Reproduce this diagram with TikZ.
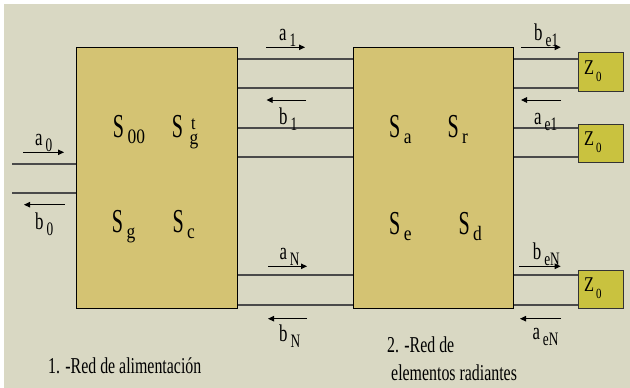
\documentclass[tikz,border=0pt]{standalone}
\usepackage{fontspec}
\setmainfont{Liberation Serif}
\newfontfamily\sfam[FakeStretch=0.6]{Liberation Serif}
\newfontfamily\subfam[FakeStretch=0.85]{Liberation Serif}
\newfontfamily\lfam[FakeStretch=0.7]{Liberation Serif}
\newfontfamily\zfam[FakeStretch=0.78]{Liberation Serif}
\newfontfamily\cfam[FakeStretch=0.70]{Liberation Serif}
\usetikzlibrary{arrows.meta}
\definecolor{bg}{HTML}{D9D8C3}
\definecolor{blk}{HTML}{D4C373}
\definecolor{zz}{HTML}{C9C23F}
\definecolor{wire}{HTML}{4A4A4A}
\newcommand\SL[2]{{\fontsize{33.5}{33.5}\selectfont #1}\hspace{3.5pt}\raisebox{-6pt}{\subfam\fontsize{20.5}{20.5}\selectfont #2}}
\newcommand\LB[2]{{\fontsize{24}{24}\selectfont #1}\hspace{3pt}\raisebox{-6pt}{\fontsize{19}{19}\selectfont #2}}
\tikzset{
  blockbox/.style={draw=black, line width=1.1pt, fill=blk, inner sep=0pt, anchor=north west},
  zbox/.style={draw=black!80, line width=1.1pt, fill=zz, inner sep=0pt, anchor=north west, minimum width=44.7pt},
  wireline/.style={draw=wire, line width=1.3pt},
  arr/.style={draw=black, line width=0.9pt, -{Triangle[length=6pt,width=5.5pt]}},
  slab/.style={anchor=base west, inner sep=0pt, font=\sfam},
  subtxt/.style={anchor=base west, inner sep=0pt, font=\subfam\fontsize{19}{19}\selectfont},
  lab/.style={anchor=base west, inner sep=0pt, font=\lfam},
  captxt/.style={anchor=base west, inner sep=0pt, font=\cfam\fontsize{22.7}{24}\selectfont},
}
\begin{document}
\begin{tikzpicture}[x=1pt,y=-1pt]
\path[use as bounding box] (0,0) rectangle (630,388);
\fill[bg] (4,4) rectangle (630,388);
% blocks
\node[blockbox, minimum width=160.7pt, minimum height=261pt] (n1) at (76,47) {};
\node[blockbox, minimum width=160.6pt, minimum height=261pt] (n2) at (352.7,47) {};
% loads
\node[zbox, minimum height=38.7pt] (z1) at (578,52) {};
\node[zbox, minimum height=38.6pt] (z2) at (578,123.7) {};
\node[zbox, minimum height=38.6pt] (z3) at (578,269.7) {};
% input wires
\coordinate (in1) at (12,164);
\coordinate (in2) at (12,193);
\draw[wireline] (in1) -- (n1.west |- in1);
\draw[wireline] (in2) -- (n1.west |- in2);
% wires between networks
\foreach \y in {59,88,128,157,275,305}
  \draw[wireline] (n1.east |- 0,\y) -- (n2.west |- 0,\y);
% wires to loads
\draw[wireline] (n2.east |- 0,59) -- (z1.west |- 0,59);
\draw[wireline] (n2.east |- 0,88) -- (z1.west |- 0,88);
\draw[wireline] (n2.east |- 0,128) -- (z2.west |- 0,128);
\draw[wireline] (n2.east |- 0,157) -- (z2.west |- 0,157);
\draw[wireline] (n2.east |- 0,275) -- (z3.west |- 0,275);
\draw[wireline] (n2.east |- 0,305) -- (z3.west |- 0,305);
% wave arrows
\draw[arr] (23.3,152.3) -- (64,152.3);
\draw[arr] (64.7,204.7) -- (24,204.7);
\draw[arr] (266,47.3) -- (305,47.3);
\draw[arr] (306,100) -- (266.5,100);
\draw[arr] (268,266.3) -- (307,266.3);
\draw[arr] (307,318.7) -- (268,318.7);
\draw[arr] (521,47.3) -- (560.7,47.3);
\draw[arr] (561,100) -- (521,100);
\draw[arr] (519.3,266.3) -- (560.7,266.3);
\draw[arr] (561,318.7) -- (520,318.7);
% wave labels
\node[lab] (la0) at (35,145.7) {\LB{a}{0}};
\node[lab] (lb0) at (35,229) {\LB{b}{0}};
\node[lab] (la1) at (279,40.7) {\LB{a}{1}};
\node[lab] (lb1) at (279,124) {\LB{b}{1}};
\node[lab] (laN) at (279.3,259.3) {\LB{a}{N}};
\node[lab] (lbN) at (279,341.7) {\LB{b}{N}};
\node[lab] (lbe1) at (534,40) {\LB{b}{e1}};
\node[lab] (lae1) at (534,124) {\LB{a}{e1}};
\node[lab] (lbeN) at (532.7,259.3) {\LB{b}{eN}};
\node[lab] (laeN) at (532.3,339.3) {\LB{a}{eN}};
% matrix labels
\node[slab] (s00) at (112.7,137) {\SL{S}{00}};
\node[slab, font=\sfam\fontsize{33.5}{33.5}\selectfont] (stg) at (171.7,137) {S};
\node[subtxt] (stgt) at (191,129.5) {t};
\node[subtxt, font=\subfam\fontsize{20.5}{20.5}\selectfont] (stgg) at (189.5,144.5) {g};
\node[slab] (sg) at (111.7,232.3) {\SL{S}{g}};
\node[slab] (sc) at (172.3,232.3) {\SL{S}{c}};
\node[slab] (sa) at (389,137.3) {\SL{S}{a}};
\node[slab] (sr) at (447.3,137.3) {\SL{S}{r}};
\node[slab] (se) at (389,234) {\SL{S}{e}};
\node[slab] (sd) at (458.3,234) {\SL{S}{d}};
% load labels
\foreach \z in {z1,z2,z3}
  \node[anchor=west, inner sep=0pt, font=\zfam] at ([xshift=6pt,yshift=1pt]\z.west) {{\fontsize{21}{21}\selectfont Z}\hspace{2pt}\raisebox{-7pt}{\fontsize{14}{14}\selectfont 0}};
% captions
\node[captxt] (c1) at (48,373.3) {1. -Red de alimentación};
\node[captxt] (c2) at (387,352.7) {2. -Red de};
\node[captxt] (c3) at (391,380) {elementos radiantes};
\end{tikzpicture}
\end{document}
